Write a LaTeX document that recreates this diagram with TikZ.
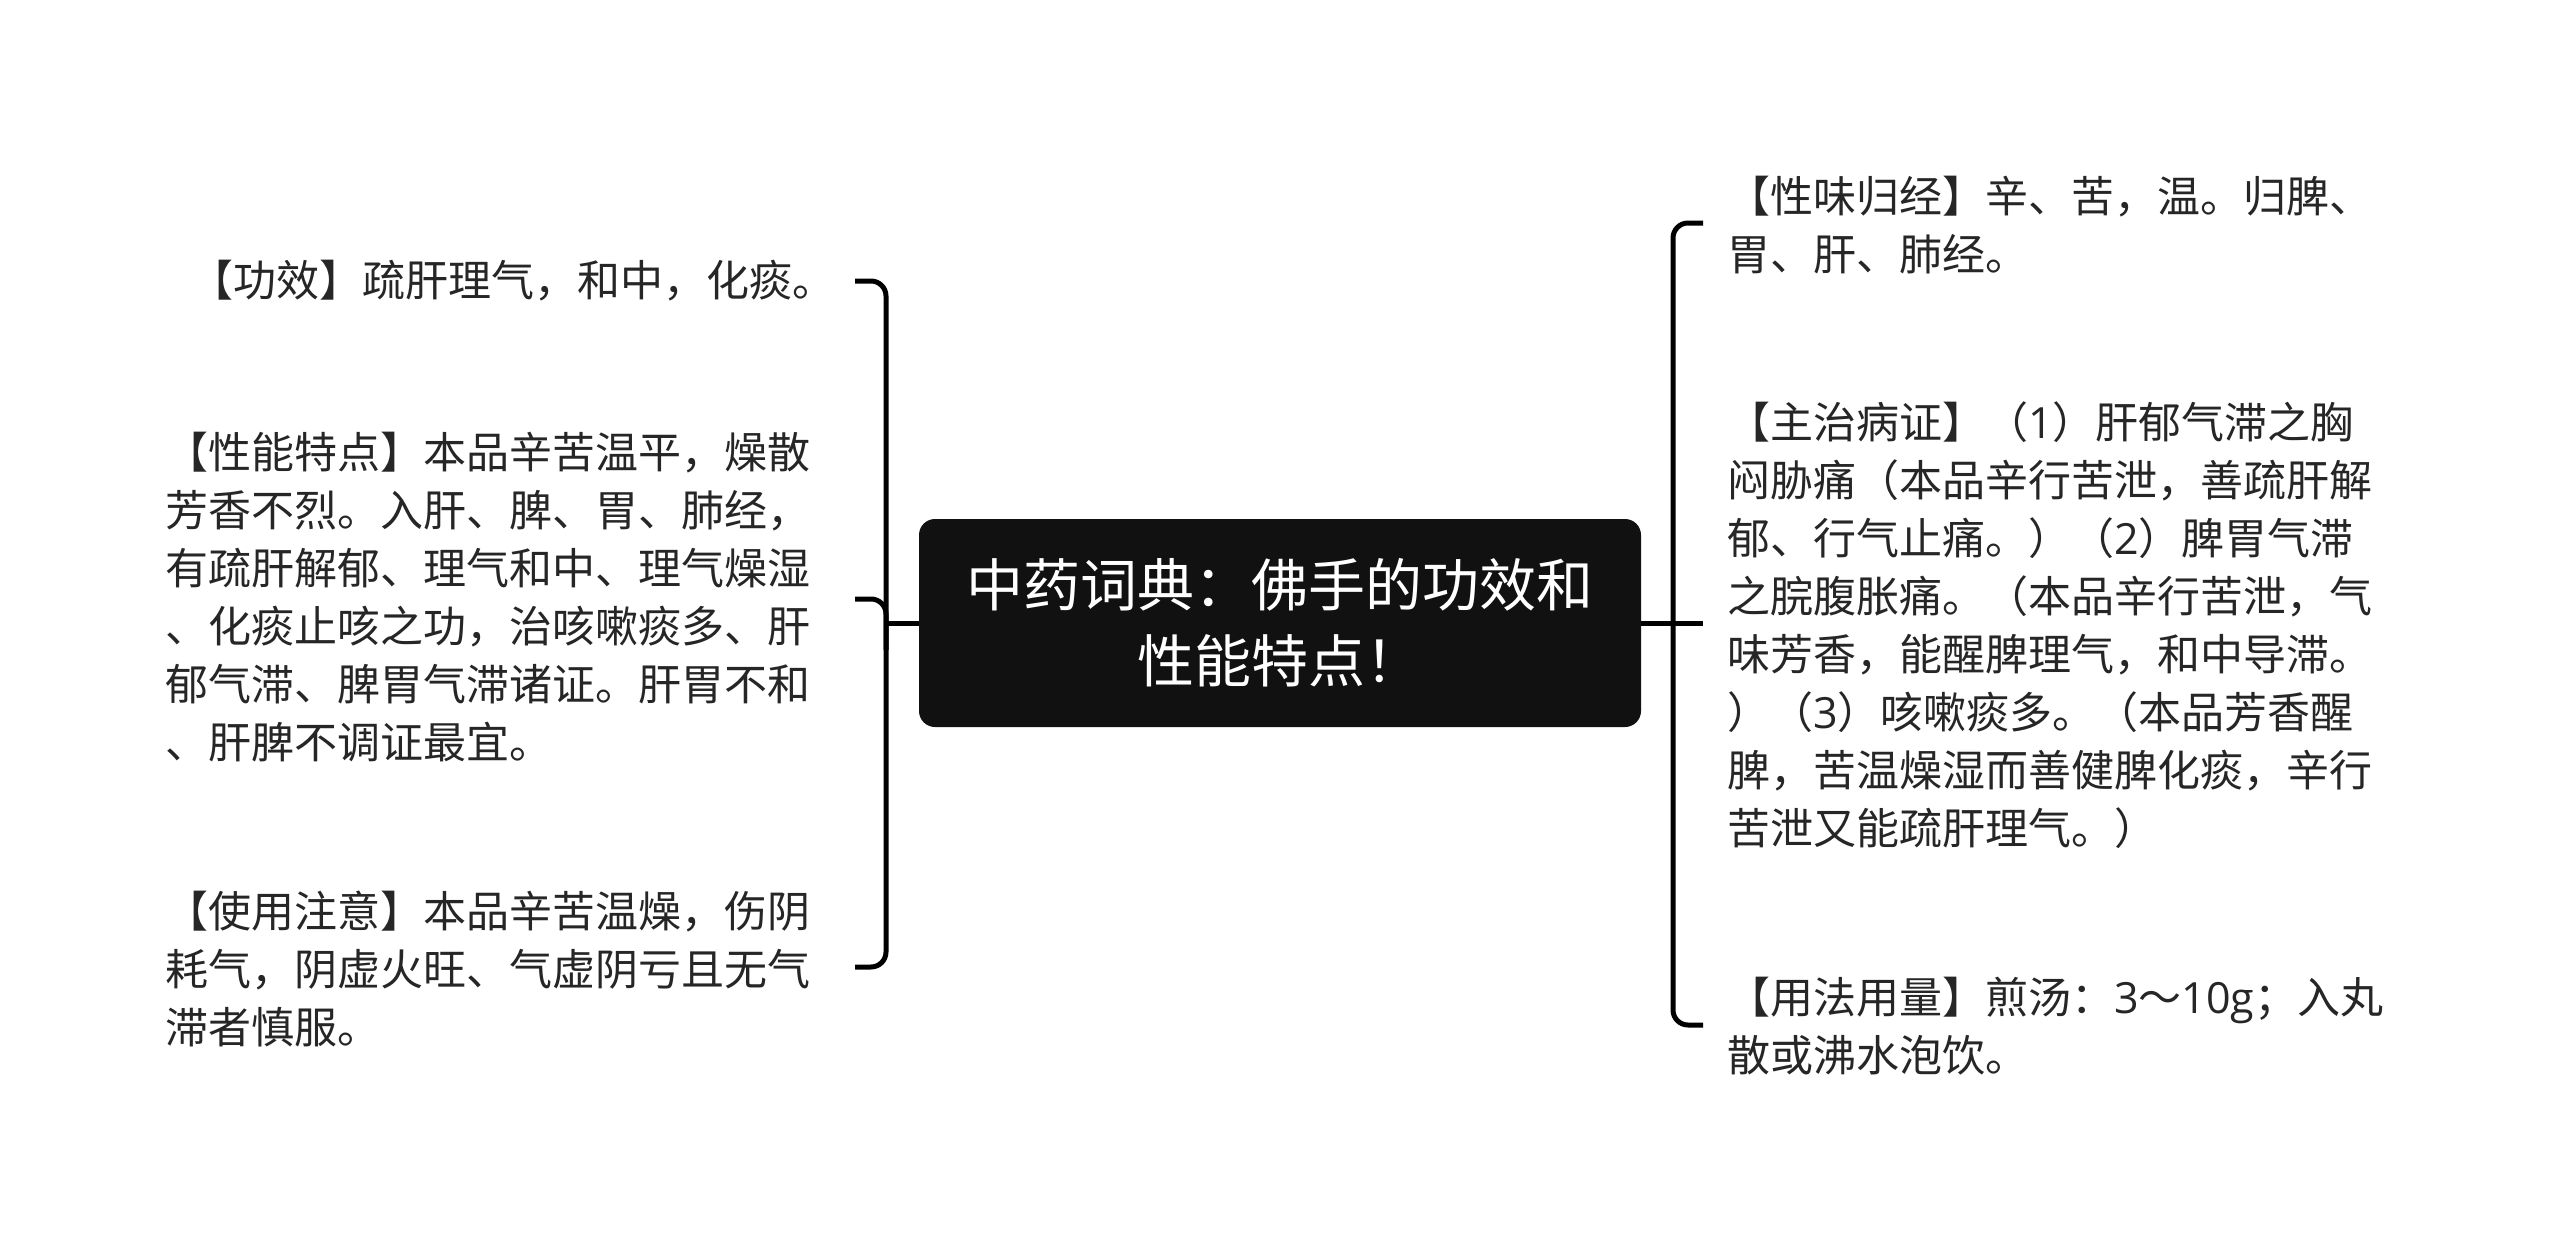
\documentclass[tikz,border=0pt]{standalone}
\usepackage{fontspec}
\newfontfamily\cjk{Noto Sans CJK SC}
\newfontfamily\lat{Open Sans}
\newcommand{\dg}[1]{{\lat #1}}
\definecolor{txt}{HTML}{262626}
\definecolor{boxc}{HTML}{111111}
\tikzset{
  x=1pt, y=-1pt,
  conn/.style={line width=5pt, draw=black, line join=round},
  body/.style={font=\cjk\fontsize{43pt}{58pt}\selectfont, text=txt, align=left, inner sep=0pt},
  titlebox/.style={fill=boxc, rounded corners=16pt, text=white, align=center,
    font=\cjk\fontsize{57pt}{76pt}\selectfont, minimum width=722pt, minimum height=208pt, inner sep=0pt}
}
\begin{document}
\begin{tikzpicture}
\useasboundingbox[fill=white] (0,0) rectangle (2560,1247);

\node[titlebox] (root) at (1280,623) {中药词典：佛手的功效和\\性能特点！};

% left children
\node[body, anchor=east] (gx) at (836,281) {【功效】疏肝理气，和中，化痰。};
\node[body, anchor=west] (xn) at (165,597) {【性能特点】本品辛苦温平，燥散\\芳香不烈。入肝、脾、胃、肺经，\\有疏肝解郁、理气和中、理气燥湿\\、化痰止咳之功，治咳嗽痰多、肝\\郁气滞、脾胃气滞诸证。肝胃不和\\、肝脾不调证最宜。};
\node[body, anchor=west] (sy) at (165,969) {【使用注意】本品辛苦温燥，伤阴\\耗气，阴虚火旺、气虚阴亏且无气\\滞者慎服。};

% right children
\node[body, anchor=west] (xw) at (1727,225) {【性味归经】辛、苦，温。归脾、\\胃、肝、肺经。};
\node[body, anchor=west] (zz) at (1727,625) {【主治病证】（\dg{1}）肝郁气滞之胸\\闷胁痛（本品辛行苦泄，善疏肝解\\郁、行气止痛。）（\dg{2}）脾胃气滞\\之脘腹胀痛。（本品辛行苦泄，气\\味芳香，能醒脾理气，和中导滞。\\）（\dg{3}）咳嗽痰多。（本品芳香醒\\脾，苦温燥湿而善健脾化痰，辛行\\苦泄又能疏肝理气。）};
\node[body, anchor=west] (yf) at (1727,1026) {【用法用量】煎汤：\dg{3}～\dg{10g}；入丸\\散或沸水泡饮。};

% left bracket
\coordinate (lv) at (886,623);
\coordinate (l1) at (855,281);
\coordinate (l2) at (855,599);
\coordinate (l3) at (855,967);
\draw[conn] (root.west) -- (lv);
\draw[conn, rounded corners=15pt] (l1) -- (886,281) -- (886,967) -- (l3);
\draw[conn, rounded corners=15pt] (l2) -- (886,599) -- (886,650);

% right bracket
\coordinate (r1) at (1703,223);
\coordinate (r2) at (1703,623);
\coordinate (r3) at (1703,1025);
\draw[conn] (root.east) -- (r2);
\draw[conn, rounded corners=15pt] (r1) -- (1673,223) -- (1673,1025) -- (r3);
\end{tikzpicture}
\end{document}
